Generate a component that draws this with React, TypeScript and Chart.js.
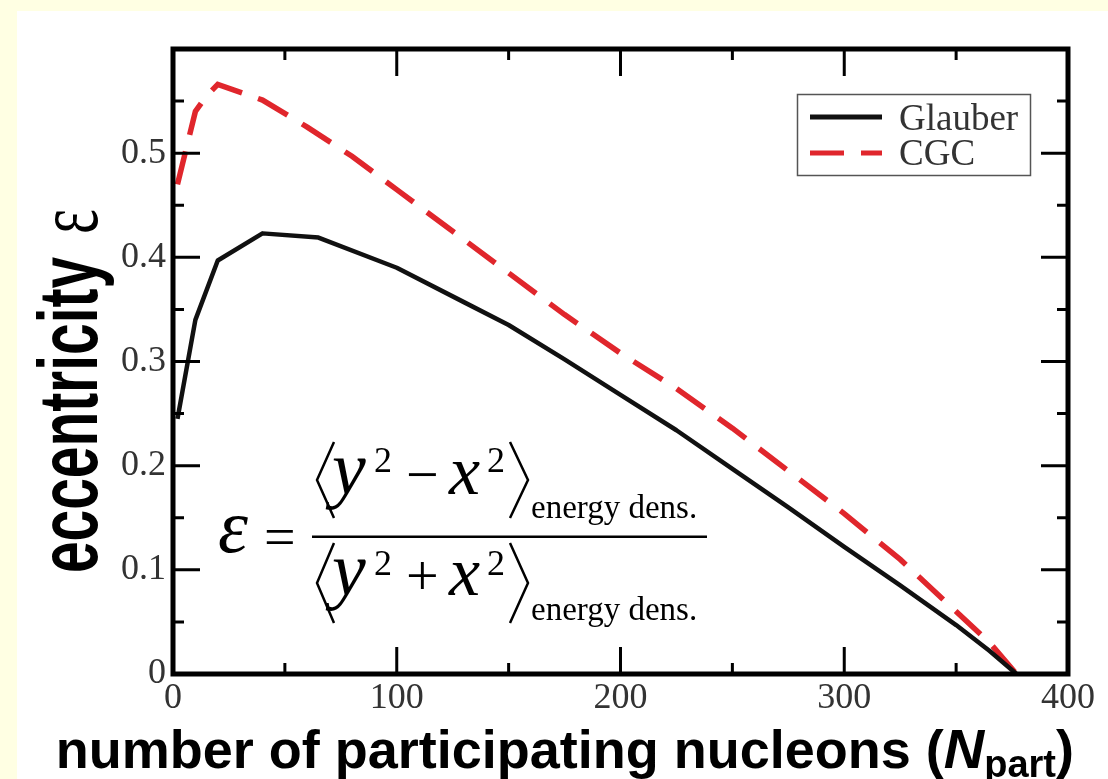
import React, { useEffect, useRef } from "react";
import { Chart, registerables } from "chart.js";
Chart.register(...registerables);

const glauberN = [2, 10, 20, 40, 65, 100, 130, 150, 175, 200, 225, 250, 275, 300, 325, 350, 365, 377];
const glauberEcc = [0.245, 0.34, 0.397, 0.423, 0.419, 0.39, 0.357, 0.335, 0.302, 0.268, 0.234, 0.197, 0.16, 0.122, 0.085, 0.047, 0.022, 0.0];
const cgcN = [2, 6, 10, 15, 20, 40, 60, 80, 100, 125, 150, 175, 200, 225, 250, 275, 300, 325, 350, 365, 377];
const cgcEcc = [0.47, 0.505, 0.54, 0.555, 0.566, 0.551, 0.525, 0.497, 0.465, 0.425, 0.385, 0.345, 0.308, 0.274, 0.236, 0.195, 0.154, 0.11, 0.06, 0.03, 0.0];
const xTickValues = [0, 100, 200, 300, 400];
const yTickValues = [0, 0.1, 0.2, 0.3, 0.4, 0.5];
const seriesLabels = ["Glauber", "CGC"];
const xTitleParts = ["number of participating nucleons (", "N", "part", ")"];
const yTitleParts = ["eccentricity", "\u03b5"];
const formulaNum = ["y", "2", "\u2212", "x", "2", "energy dens."];
const formulaDen = ["y", "2", "+", "x", "2", "energy dens."];

const SERIF = '"Liberation Serif", "Times New Roman", serif';
const SANS = '"Liberation Sans", Arial, sans-serif';
const RED = "#e0262c";
const TXT = "#333";

export default function App() {
  const ref = useRef<HTMLCanvasElement>(null);
  useEffect(() => {
    const canvas = ref.current!;
    const decor = {
      id: "decor",
      afterDatasetsDraw(chart: any) {
        const { ctx, chartArea: a, scales } = chart;
        const xs = scales.x, ys = scales.y;
        ctx.save();
        // inward ticks
        ctx.strokeStyle = "#000";
        ctx.lineWidth = 3;
        ctx.beginPath();
        for (let v = 0; v <= 400; v += 50) {
          const px = xs.getPixelForValue(v);
          const len = v % 100 === 0 ? 27 : 11;
          ctx.moveTo(px, a.bottom); ctx.lineTo(px, a.bottom - len);
          ctx.moveTo(px, a.top); ctx.lineTo(px, a.top + len);
        }
        for (let i = 0; i <= 12; i++) {
          const py = ys.getPixelForValue(i * 0.05);
          const len = i % 2 === 0 ? 27 : 11;
          ctx.moveTo(a.left, py); ctx.lineTo(a.left + len, py);
          ctx.moveTo(a.right, py); ctx.lineTo(a.right - len, py);
        }
        ctx.stroke();
        // frame
        ctx.lineWidth = 5;
        ctx.strokeRect(a.left, a.top, a.right - a.left, a.bottom - a.top);

        // legend
        ctx.lineWidth = 1.5;
        ctx.strokeStyle = "#555";
        ctx.strokeRect(797.5, 94.5, 233, 81);
        ctx.lineWidth = 5;
        ctx.strokeStyle = "#111";
        ctx.beginPath(); ctx.moveTo(810, 117); ctx.lineTo(882, 117); ctx.stroke();
        ctx.strokeStyle = RED;
        ctx.setLineDash([34, 17]);
        ctx.beginPath(); ctx.moveTo(810, 153); ctx.lineTo(882, 153); ctx.stroke();
        ctx.setLineDash([]);
        ctx.fillStyle = TXT;
        ctx.font = `37px ${SERIF}`;
        ctx.textAlign = "left";
        ctx.textBaseline = "alphabetic";
        ctx.fillText(seriesLabels[0], 899, 130);
        ctx.fillText(seriesLabels[1], 899, 165);

        // formula
        ctx.fillStyle = "#000";
        ctx.strokeStyle = "#000";
        ctx.font = `italic 76px ${SERIF}`;
        ctx.fillText("\u03b5", 218, 552);
        ctx.font = `56px ${SERIF}`;
        ctx.fillText("=", 264, 556);
        ctx.fillRect(312, 535.5, 395, 2.5);
        const drawPart = (parts: string[], base: number, top: number, bot: number, sup: number, sub: number) => {
          ctx.lineWidth = 2.5;
          ctx.beginPath();
          ctx.moveTo(334, top); ctx.lineTo(317, (top + bot) / 2); ctx.lineTo(334, bot);
          ctx.moveTo(510, top); ctx.lineTo(528, (top + bot) / 2); ctx.lineTo(510, bot);
          ctx.stroke();
          ctx.font = `italic 76px ${SERIF}`;
          ctx.fillText(parts[0], 332, base);
          ctx.font = `36px ${SERIF}`;
          ctx.fillText(parts[1], 374, sup);
          ctx.font = `58px ${SERIF}`;
          ctx.fillText(parts[2], 406, base);
          ctx.font = `italic 70px ${SERIF}`;
          ctx.fillText(parts[3], 449, base);
          ctx.font = `36px ${SERIF}`;
          ctx.fillText(parts[4], 487, sup);
          ctx.font = `33px ${SERIF}`;
          ctx.fillText(parts[5], 531, sub);
        };
        drawPart(formulaNum, 494, 442, 518, 472, 518);
        drawPart(formulaDen, 595, 543, 623, 575, 620);

        // y title
        ctx.save();
        ctx.translate(97, 573);
        ctx.rotate(-Math.PI / 2);
        ctx.font = `bold 84px ${SANS}`;
        const w = ctx.measureText(yTitleParts[0]).width;
        const sx = 316 / w;
        ctx.scale(sx, 1);
        ctx.fillStyle = "#000";
        ctx.fillText(yTitleParts[0], 0, 0);
        ctx.font = `88px ${SERIF}`;
        ctx.fillText(yTitleParts[1], (573 - 234) / sx, 0);
        ctx.restore();

        // x title
        ctx.fillStyle = "#000";
        const f1 = `bold 54px ${SANS}`, f2 = `italic bold 56px ${SANS}`, f3 = `bold 38px ${SANS}`;
        ctx.font = f1; const w0 = ctx.measureText(xTitleParts[0]).width;
        ctx.font = f2; const w1 = ctx.measureText(xTitleParts[1]).width;
        ctx.font = f3; const w2 = ctx.measureText(xTitleParts[2]).width;
        ctx.font = f1; const w3 = ctx.measureText(xTitleParts[3]).width;
        let x0 = 1074 - (w0 + w1 + w2 + w3);
        const bl = 768;
        ctx.font = f1; ctx.fillText(xTitleParts[0], x0, bl); x0 += w0;
        ctx.font = f2; ctx.fillText(xTitleParts[1], x0, bl); x0 += w1;
        ctx.font = f3; ctx.fillText(xTitleParts[2], x0, bl + 9); x0 += w2;
        ctx.font = f1; ctx.fillText(xTitleParts[3], x0, bl);
        ctx.restore();
      },
    };

    const chart = new Chart(canvas, {
      type: "line",
      data: {
        datasets: [
          {
            label: seriesLabels[0],
            data: glauberN.map((n, i) => ({ x: n, y: glauberEcc[i] })),
            borderColor: "#111",
            borderWidth: 4.5,
            pointRadius: 0,
            tension: 0,
            borderJoinStyle: "round",
            fill: false,
          },
          {
            label: seriesLabels[1],
            data: cgcN.map((n, i) => ({ x: n, y: cgcEcc[i] })),
            borderColor: RED,
            borderWidth: 5.5,
            borderDash: [34, 17],
            pointRadius: 0,
            tension: 0,
            fill: false,
          },
        ],
      },
      options: {
        responsive: false,
        animation: false,
        devicePixelRatio: 1,
        layout: { padding: { left: 0, top: 49, right: 40, bottom: 0 } },
        plugins: { legend: { display: false }, tooltip: { enabled: false }, title: { display: false } },
        scales: {
          x: {
            type: "linear",
            min: 0,
            max: 400,
            afterBuildTicks: (s: any) => { s.ticks = xTickValues.map((v) => ({ value: v })); },
            afterFit: (s: any) => { s.height = 105; },
            grid: { display: false, drawTicks: false },
            border: { display: false },
            ticks: { color: TXT, font: { family: SERIF, size: 36 }, padding: 3, maxRotation: 0, autoSkip: false },
          },
          y: {
            type: "linear",
            min: 0,
            max: 0.6,
            afterBuildTicks: (s: any) => { s.ticks = yTickValues.map((v) => ({ value: v })); },
            afterFit: (s: any) => { s.width = 173; },
            grid: { display: false, drawTicks: false },
            border: { display: false },
            ticks: {
              color: TXT,
              font: { family: SERIF, size: 36 },
              padding: 7,
              autoSkip: false,
              callback: (v: any) => String(Math.round(Number(v) * 10) / 10),
            },
          },
        },
      },
      plugins: [decor],
    });
    return () => chart.destroy();
  }, []);

  return (
    <div style={{ position: "fixed", left: 0, top: 0, width: 1108, height: 779, background: "#ffffe3", overflow: "hidden" }}>
      <div style={{ position: "absolute", left: 17, top: 11, right: 0, bottom: 0, background: "#ffffff" }} />
      <canvas ref={ref} width={1108} height={779} style={{ position: "absolute", left: 0, top: 0, width: 1108, height: 779 }} />
    </div>
  );
}
